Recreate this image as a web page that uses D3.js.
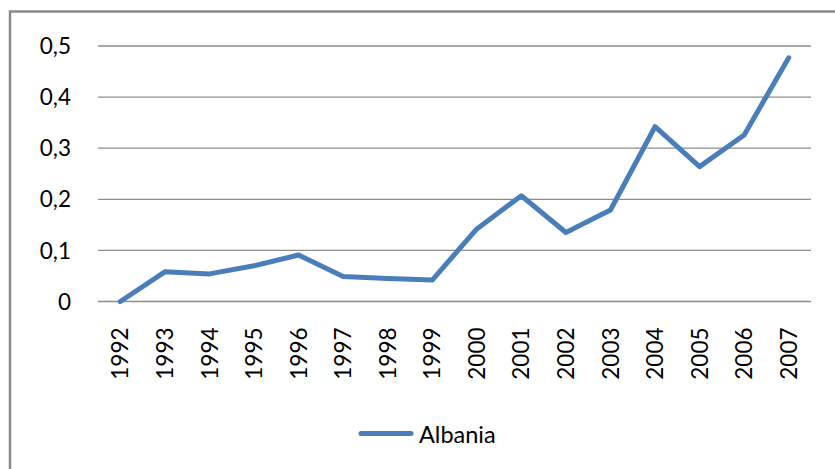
<!DOCTYPE html>
<html><head><meta charset="utf-8">
<script src="https://cdn.jsdelivr.net/npm/d3@7"></script>
<style>body{margin:0;background:#fff}svg{display:block}</style>
</head><body>
<script>
const years = ["1992","1993","1994","1995","1996","1997","1998","1999","2000","2001","2002","2003","2004","2005","2006","2007"];
const albania = [0, 0.058, 0.054, 0.070, 0.091, 0.049, 0.045, 0.042, 0.142, 0.207, 0.135, 0.179, 0.342, 0.264, 0.326, 0.477];
const yTicks = [0, 0.1, 0.2, 0.3, 0.4, 0.5];
const seriesName = "Albania";

(function () {
const W = 835, H = 469;
const font = "Lato, 'Open Sans', sans-serif";
const svg = d3.select("body").append("svg").attr("width", W).attr("height", H);
svg.append("rect").attr("x", 0).attr("y", 0).attr("width", W).attr("height", H).attr("fill", "#fff");

// outer chart border (clipped on right/bottom)
svg.append("rect").attr("x", 10).attr("y", 11.5).attr("width", W + 10).attr("height", H + 10)
  .attr("fill", "none").attr("stroke", "#8a8a8a").attr("stroke-width", 2.5);

const pLeft = 98, pRight = 811, pTop = 46, pBottom = 301.5;
const x = d3.scalePoint().domain(years).range([pLeft, pRight]).padding(0.5);
const y = d3.scaleLinear().domain([0, 0.5]).range([pBottom, pTop]);

// gridlines
svg.append("g").selectAll("line").data(yTicks).join("line")
  .attr("x1", pLeft).attr("x2", pRight)
  .attr("y1", d => y(d)).attr("y2", d => y(d))
  .attr("stroke", "#8c8c8c").attr("stroke-width", d => d === 0 ? 1.6 : 1.3);

// y labels
const fmt = d => d === 0 ? "0" : d3.format(".1f")(d).replace(".", ",");
svg.append("g").selectAll("text").data(yTicks).join("text")
  .attr("x", 71).attr("y", d => y(d)).attr("dy", "0.36em")
  .attr("text-anchor", "end").attr("font-family", font).attr("font-size", 22.5).attr("fill", "#000")
  .text(fmt);

// x labels rotated
svg.append("g").selectAll("text").data(years).join("text")
  .attr("transform", d => `translate(${x(d)},${pBottom + 26}) rotate(-90)`)
  .attr("text-anchor", "end").attr("dy", "0.36em")
  .attr("font-family", font).attr("font-size", 22.5).attr("fill", "#000")
  .text(d => d);

// line
const line = d3.line().x((d, i) => x(years[i])).y(d => y(d));
svg.append("path").datum(albania).attr("d", line)
  .attr("fill", "none").attr("stroke", "#4a7ebb").attr("stroke-width", 5)
  .attr("stroke-linejoin", "round").attr("stroke-linecap", "round");

// legend
svg.append("line").attr("x1", 361).attr("x2", 411).attr("y1", 433.5).attr("y2", 433.5)
  .attr("stroke", "#4a7ebb").attr("stroke-width", 5).attr("stroke-linecap", "round");
svg.append("text").attr("x", 419).attr("y", 443).attr("font-family", font).attr("font-size", 23.5)
  .attr("fill", "#000").text(seriesName);
})();
</script>
</body></html>
